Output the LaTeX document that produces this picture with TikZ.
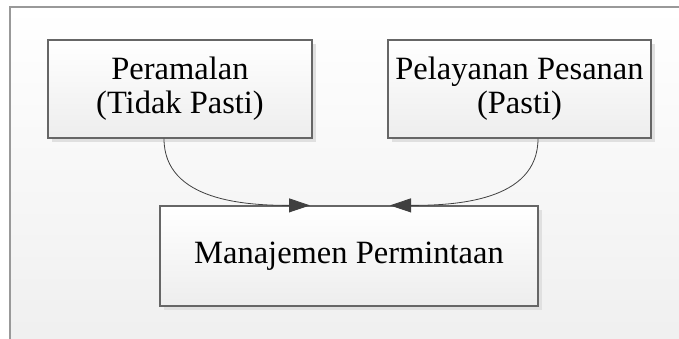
\documentclass[tikz,border=0pt]{standalone}
\usepackage{fontspec}
\setmainfont{Liberation Serif}
\usetikzlibrary{arrows.meta}
\usetikzlibrary{shadows}

\begin{document}
\begin{tikzpicture}[x=1pt,y=-1pt]
	\tikzstyle{kotak}=[rectangle,draw=black!60,line width=1.2pt,top color=white,bottom color=black!7,
		drop shadow={shadow xshift=4pt,shadow yshift=-4pt,fill=black!12,opacity=1},
		inner sep=0pt,align=center,font=\fontsize{32.5}{34}\selectfont]
	\tikzstyle{panah}=[draw=black!75,line width=0.8pt,-{Triangle[length=21pt,width=14pt]}]
	\useasboundingbox (0,0) rectangle (679,339);
	% latar
	\shade[top color=white,bottom color=black!6] (10,7) rectangle (679,339);
	\draw[black!40,line width=1.5pt] (10,339) -- (10,7) -- (679,7);
	\node[kotak,minimum width=264pt,minimum height=98pt] (A) at (180,89){Peramalan\\(Tidak Pasti)};
	\node[kotak,minimum width=263pt,minimum height=98pt] (B) at (519.5,89){Pelayanan Pesanan\\(Pasti)};
	\node[kotak,minimum width=378pt,minimum height=100pt] (C) at (349,256){Manajemen Permintaan};
	\draw[panah] ([xshift=-16pt]A.south) to[out=-90,in=180] ([xshift=-39pt]C.north);
	\draw[panah] ([xshift=18.5pt]B.south) to[out=-90,in=0] ([xshift=41pt]C.north);
\end{tikzpicture}
\end{document}
